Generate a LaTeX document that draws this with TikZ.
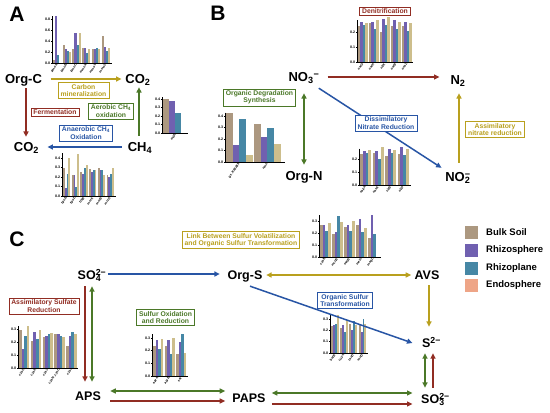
\documentclass[tikz,border=0pt]{standalone}
\usepackage{fontspec}
\setmainfont{Liberation Sans}
\usetikzlibrary{arrows.meta}
\definecolor{cBulk}{RGB}{172,152,128}
\definecolor{cRhizo}{RGB}{112,96,176}
\definecolor{cPlane}{RGB}{70,135,165}
\definecolor{cEndo}{RGB}{238,165,135}
\definecolor{cKhaki}{RGB}{205,190,140}
\definecolor{cRed}{RGB}{145,45,35}
\definecolor{cGreen}{RGB}{75,120,40}
\definecolor{cOlive}{RGB}{185,160,30}
\definecolor{cBlue}{RGB}{40,85,165}
\newcommand{\chemss}[2]{\rlap{\textsubscript{#1}}\textsuperscript{#2}}
% #1 x0, #2 y0, #3 px per 1.0, #4 axis length, #5 group width, #6 ticks, #7 data, #8 axis top
\newcommand{\bchart}[8]{%
\begin{scope}[shift={(#1,#2)},yscale=-1]
 \foreach \t in {#6}{
   \draw[axisline] (-1.2,\t*#3) -- (0,\t*#3);
   \node[ticklab] at (-1.5,\t*#3) {\t};
 }
 \foreach \g/\va/\vb/\vc/\vd [count=\i from 0] in {#7}{
   \pgfmathsetmacro\gx{1.0+\i*#5}
   \pgfmathsetmacro\bw{(#5-1.4)/4}
   \fill[cBulk] (\gx,0) rectangle ++(\bw,\va*#3);
   \fill[cRhizo] (\gx+\bw,0) rectangle ++(\bw,\vb*#3);
   \fill[cPlane] (\gx+2*\bw,0) rectangle ++(\bw,\vc*#3);
   \fill[cKhaki] (\gx+3*\bw,0) rectangle ++(\bw,\vd*#3);
   \node[genelab] at (\gx+2*\bw,-1.3) {\g};
 }
 \draw[axisline] (0,#8*#3) -- (0,0) -- (#4,0);
\end{scope}}
\begin{document}
\begin{tikzpicture}[x=1pt,y=-1pt,
  chemA/.style={font=\fontsize{13}{13}\selectfont\bfseries, inner sep=0pt, text height=9.3pt, text depth=0pt},
  chemC/.style={font=\fontsize{12.5}{12.5}\selectfont\bfseries, inner sep=0pt, text height=8.95pt, text depth=0pt},
  panel/.style={font=\fontsize{21}{21}\selectfont\bfseries, inner sep=0pt},
  lbox/.style={draw=#1, text=#1, fill=white, line width=0.6pt, align=center,
     font=\fontsize{6.8}{7.4}\selectfont\bfseries, inner xsep=2.5pt, inner ysep=1.6pt},
  axisline/.style={line width=0.7pt, black},
  ticklab/.style={font=\fontsize{3.6}{4}\selectfont\bfseries, anchor=east, inner sep=0.2pt},
  genelab/.style={font=\fontsize{3.3}{3.6}\selectfont\bfseries, anchor=east, rotate=55, inner sep=0.1pt},
  arr/.style={draw=#1, line width=1.5pt, -{Triangle[length=5.5pt,width=5pt]}},
  darr/.style={draw=#1, line width=1.5pt, {Triangle[length=5.5pt,width=5pt]}-{Triangle[length=5.5pt,width=5pt]}},
  legsq/.style={fill=#1, minimum size=13pt, inner sep=0pt},
  legtxt/.style={font=\fontsize{9.5}{10}\selectfont\bfseries, anchor=west, inner sep=0pt}
]
\useasboundingbox (0,0) rectangle (550,413);
\fill[white] (0,0) rectangle (550,413);

% ================= Panel A =================
\node[panel] (pA) at (17,14) {A};
\bchart{52}{63}{55}{60}{9.7}{0.0,0.2,0.4,0.6,0.8}{pmoA/.05/.85/.15/0, pmoB/.33/.25/.22/.20, pmoC/.25/.55/.32/.55, mmoX/.27/.28/.18/.25, mmoY/.25/.25/.28/.26, mmoZ/.50/.30/.22/.28}{0.85}
\bchart{162}{133}{85}{26}{26}{0.0,0.1,0.2,0.3,0.4}{mdh/.40/.38/.24/0}{0.42}
\bchart{62}{196}{95}{54}{8.7}{0.0,0.1,0.2,0.3,0.4}{fpoB/.30/.08/.23/.40, fpoD/.22/.22/.10/.44, frhB/.25/.23/.30/.33, mcrA/.28/.25/.27/.27, mcrB/.29/.27/.27/.22, mcrG/.22/.20/.23/.29}{0.45}

\node[chemA] (orgc) at (23.5,79) {Org-C};
\node[chemA] (co2a) at (138,79) {CO\textsubscript{2}};
\node[chemA] (co2b) at (26.5,147) {CO\textsubscript{2}};
\node[chemA] (ch4) at (140,147) {CH\textsubscript{4}};

\draw[arr=cOlive] ([xshift=8.5pt]orgc.east) -- ([xshift=-3.7pt]co2a.west);
\draw[arr=cRed] ([xshift=2.5pt,yshift=-4.3pt]orgc.south) -- ([xshift=-0.5pt,yshift=5.3pt]co2b.north);
\draw[arr=cGreen] ([xshift=-1pt,yshift=6.3pt]ch4.north) -- ([xshift=1pt,yshift=-3.3pt]co2a.south);
\draw[arr=cBlue] ([xshift=-6pt]ch4.west) -- ([xshift=8.2pt]co2b.east);

\node[lbox=cOlive] (bcm) at (83.5,90.5) {Carbon\\mineralization};
\node[lbox=cRed] (bfe) at (55,112) {Fermentation};
\node[lbox=cGreen] (bae) at (111,111) {Aerobic CH\textsubscript{4}\\oxidation};
\node[lbox=cBlue] (ban) at (86,133) {Anaerobic CH\textsubscript{4}\\Oxidation};

% ================= Panel B =================
\node[panel] (pB) at (218,13) {B};
\bchart{357}{62}{150}{56}{11}{0.0,0.1,0.2}{narG/.24/.27/.25/.26, narH/.26/.27/.22/.28, nirK/.20/.29/.25/.30, norB/.24/.28/.22/.27, nosZ/.24/.27/.21/.26}{0.28}
\bchart{359}{185}{130}{52}{12.5}{0.0,0.1,0.2}{napA/.24/.26/.25/.27, nasA/.25/.26/.20/.29, nirB/.22/.28/.25/.27, nirD/.24/.29/.23/.28}{0.28}
\bchart{225}{162}{115}{60}{28}{0.0,0.1,0.2,0.3,0.4}{gs\_K00265/.43/.15/.37/.06, nmo/.33/.22/.30/.16}{0.43}

\node[chemA] (no3) at (304,77) {NO\textsubscript{3}\textsuperscript{−}};
\node[chemA] (n2) at (458,79.5) {N\textsubscript{2}};
\node[chemA] (no2) at (458,177) {NO\chemss{2}{−}};
\node[chemA] (orgn) at (304,176) {Org-N};

\draw[arr=cRed] ([xshift=8pt]no3.east) -- ([xshift=-10.8pt,yshift=2.5pt]n2.west);
\draw[arr=cOlive] ([xshift=1pt,yshift=9.3pt]no2.north) -- ([xshift=1pt,yshift=-8.8pt]n2.south);
\draw[arr=cBlue] ([xshift=-0.9pt,yshift=-6.3pt]no3.south east) -- ([xshift=-3.6pt,yshift=4.3pt]no2.north west);
\draw[darr=cGreen] ([yshift=-11.3pt]no3.south) -- ([yshift=6.3pt]orgn.north);

\node[lbox=cRed] (bde) at (385,11.5) {Denitrification};
\node[lbox=cGreen] (bod) at (259.5,97.5) {Organic Degradation\\Synthesis};
\node[lbox=cBlue] (bdn) at (386,123) {Dissimilatory\\Nitrate Reduction};
\node[lbox=cOlive] (ban2) at (495,129.5) {Assimilatory\\nitrate reduction};

% ================= Panel C =================
\node[panel] (pC) at (17,239) {C};
\bchart{319}{257}{120}{62}{12}{0.0,0.1,0.2,0.3}{cysK/.27/.27/.22/.28, mccB/.19/.21/.34/.29, metB/.25/.27/.22/.30, metZ/.27/.32/.21/.24, megL/.16/.35/.19/0}{0.35}
\bchart{18}{368}{130}{60}{11.8}{0.0,0.1,0.2,0.3}{cysC/.29/.15/.25/.32, cysH/.21/.28/.22/.29, cysJ/.24/.25/.26/.27, cysN\_cysC/.26/.26/.25/.24, cysI/.17/.25/.28/.26}{0.32}
\bchart{152}{376}{127}{36}{11.5}{0.0,0.1,0.2,0.3}{aprA/.24/.28/.21/.29, aprB/.24/.28/.17/.30, sat/.17/.27/.33/.18}{0.33}
\bchart{330}{353}{113}{38}{9.2}{0.0,0.1,0.2,0.3}{betB/.24/.25/.26/.34, cuyA/.22/.25/.19/.29, tauD/.26/.20/.28/.25, ssuD/.25/.19/.30/.26}{0.34}

\node[chemC] (so4) at (92,275) {SO\chemss{4}{2−}};
\node[chemC] (orgs) at (245,275) {Org-S};
\node[chemC] (avs) at (427,275) {AVS};
\node[chemC] (s2) at (431.5,343) {S\textsuperscript{2−}};
\node[chemC] (so3) at (435.5,399.5) {SO\chemss{3}{2−}};
\node[chemC] (aps) at (88,396.5) {APS};
\node[chemC] (paps) at (249,398) {PAPS};

\draw[arr=cBlue] ([xshift=2pt,yshift=1pt]so4.east) -- ([xshift=-7.6pt,yshift=1pt]orgs.west);
\draw[darr=cOlive] ([xshift=3.6pt]orgs.east) -- ([xshift=-3.2pt]avs.west);
\draw[arr=cOlive] ([xshift=2pt,yshift=-5.5pt]avs.south) -- ([xshift=-2.5pt,yshift=11.5pt]s2.north);
\draw[arr=cBlue] ([xshift=5pt,yshift=-6.5pt]orgs.south) -- ([xshift=-9.4pt]s2.west);
\draw[darr=cGreen] ([xshift=-6.5pt,yshift=-5.5pt]s2.south) -- ([xshift=-10.5pt,yshift=7pt]so3.north);
\draw[arr=cRed] ([xshift=-2.5pt,yshift=7pt]so3.north) -- ([xshift=1.5pt,yshift=-5.5pt]s2.south);
\draw[darr=cGreen] ([xshift=9.2pt,yshift=5.5pt]aps.east) -- ([xshift=-7pt,yshift=7pt]paps.west);
\draw[arr=cRed] ([xshift=9.2pt,yshift=-4.5pt]aps.east) -- ([xshift=-7pt,yshift=-3pt]paps.west);
\draw[darr=cGreen] ([xshift=6pt,yshift=5pt]paps.east) -- ([xshift=-8.5pt,yshift=6.5pt]so3.west);
\draw[arr=cRed] ([xshift=6pt,yshift=-6pt]paps.east) -- ([xshift=-8.5pt,yshift=-4.5pt]so3.west);
\draw[arr=cRed] ([xshift=-7pt,yshift=-6.5pt]so4.south) -- ([xshift=-3pt,yshift=10pt]aps.north);
\draw[darr=cGreen] ([yshift=-6.5pt]so4.south) -- ([xshift=4pt,yshift=10pt]aps.north);

\node[lbox=cOlive] (blink) at (241,240) {Link Between Sulfur Volatilization\\and Organic Sulfur Transformation};
\node[lbox=cBlue] (bost) at (345,300.5) {Organic Sulfur\\Transformation};
\node[lbox=cRed] (basr) at (44,306) {Assimilatory Sulfate\\Reduction};
\node[lbox=cGreen] (bsor) at (165.5,317.5) {Sulfur Oxidation\\and Reduction};

% ================= Legend =================
\node[legsq=cBulk] (lq1) at (471.5,232) {};
\node[legsq=cRhizo] (lq2) at (471.5,250) {};
\node[legsq=cPlane] (lq3) at (471.5,268) {};
\node[legsq=cEndo] (lq4) at (471.5,285) {};
\node[legtxt] (lt1) at (486,232) {Bulk Soil};
\node[legtxt] (lt2) at (486,250) {Rhizosphere};
\node[legtxt] (lt3) at (486,268) {Rhizoplane};
\node[legtxt] (lt4) at (486,285) {Endosphere};
\end{tikzpicture}
\end{document}
